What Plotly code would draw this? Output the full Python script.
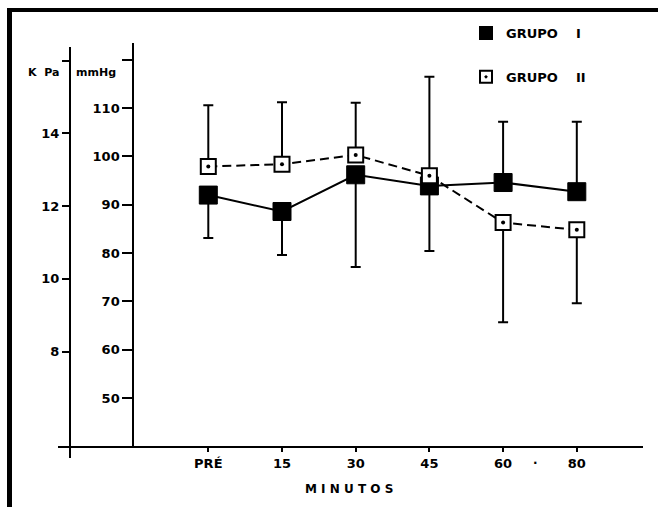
import plotly.graph_objects as go

# ---- data ----
categories = ["PRÉ", "15", "30", "45", "60", "80"]
g1_mean = [92.0, 88.6, 96.2, 93.9, 94.6, 92.7]
g1_sd_plus = [0, 0, 0, 0, 12.6, 14.5]
g1_sd_minus = [8.9, 9.0, 19.1, 13.5, 0, 0]
g2_mean = [97.9, 98.4, 100.3, 96.0, 86.3, 84.8]
g2_sd_plus = [12.7, 12.8, 10.8, 20.5, 0, 0]
g2_sd_minus = [0, 0, 0, 0, 20.6, 15.2]
mmhg_ticks = [50, 60, 70, 80, 90, 100, 110, 120]
mmhg_labels = ["50", "60", "70", "80", "90", "100", "110", ""]
kpa_ticks = [8, 10, 12, 14, 16]
kpa_labels = ["8", "10", "12", "14", ""]
legend_names = ["GRUPO\u00a0\u00a0\u00a0\u00a0I", "GRUPO\u00a0\u00a0\u00a0\u00a0II"]

W, H = 658, 507
def px(x):
    return x / W
def py(y):
    return 1 - y / H

FONT = "DejaVu Sans"
xs = list(range(len(categories)))

fig = go.Figure()

fig.add_trace(go.Scatter(
    x=xs, y=g1_mean, mode="lines+markers", showlegend=False,
    line=dict(color="black", width=2),
    marker=dict(symbol="square", size=18, color="black", line=dict(color="black", width=1)),
    error_y=dict(type="data", symmetric=False, array=g1_sd_plus, arrayminus=g1_sd_minus,
                 color="black", thickness=2, width=5),
))
fig.add_trace(go.Scatter(
    x=xs, y=g2_mean, mode="lines+markers", showlegend=False,
    line=dict(color="black", width=2, dash="9px,5px"),
    marker=dict(symbol="square", size=15, color="white", line=dict(color="black", width=2)),
    error_y=dict(type="data", symmetric=False, array=g2_sd_plus, arrayminus=g2_sd_minus,
                 color="black", thickness=2, width=5),
))
# centre dots of the open squares
fig.add_trace(go.Scatter(
    x=xs, y=g2_mean, mode="markers", showlegend=False, hoverinfo="skip",
    marker=dict(symbol="circle", size=4, color="black"),
))
# legend entries (markers only)
fig.add_trace(go.Scatter(
    x=[None], y=[None], mode="markers", name=legend_names[0], legendgroup="a",
    marker=dict(symbol="square", size=16, color="black", line=dict(color="black", width=1)),
))
fig.add_trace(go.Scatter(
    x=[None], y=[None], mode="markers", name=legend_names[1], legendgroup="b",
    marker=dict(symbol="square-dot", size=14, color="white", line=dict(color="black", width=2.5)),
))
# carrier for the kPa axis
fig.add_trace(go.Scatter(x=[None], y=[None], yaxis="y2", showlegend=False, hoverinfo="skip"))

# x mapping: marker i at 208.3 + 73.7*i px
def xi(p):
    return (p - 208.3) / 73.7

fig.update_layout(
    width=W, height=H,
    margin=dict(l=0, r=0, t=0, b=0),
    paper_bgcolor="white", plot_bgcolor="rgba(0,0,0,0)",
    font=dict(family=FONT, color="black", size=12, weight="bold"),
    xaxis=dict(
        domain=[px(58), px(643)], range=[xi(58), xi(643)],
        anchor="y", showline=True, linecolor="black", linewidth=2,
        tickmode="array", tickvals=xs, ticktext=categories,
        ticks="outside", ticklen=4, tickwidth=2, tickcolor="black",
        showgrid=False, zeroline=False,
        tickfont=dict(family=FONT, size=13, weight="bold"),
    ),
    yaxis=dict(
        domain=[py(446.3), py(43)], range=[40, 123.48],
        anchor="free", position=px(133.3),
        showline=True, linecolor="black", linewidth=2,
        tickmode="array", tickvals=mmhg_ticks, ticktext=mmhg_labels,
        ticks="outside", ticklen=10, tickwidth=2, tickcolor="black",
        showgrid=False, zeroline=False,
        tickfont=dict(family=FONT, size=13, weight="bold"),
    ),
    yaxis2=dict(
        domain=[py(458), py(47)], range=[5.080, 16.371],
        anchor="free", position=px(70),
        showline=True, linecolor="black", linewidth=2,
        tickmode="array", tickvals=kpa_ticks, ticktext=kpa_labels,
        ticks="outside", ticklen=7, tickwidth=2, tickcolor="black",
        showgrid=False, zeroline=False,
        tickfont=dict(family=FONT, size=13, weight="bold"),
    ),
    legend=dict(
        x=px(466), y=py(18), xanchor="left", yanchor="top",
        bgcolor="rgba(0,0,0,0)", borderwidth=0,
        tracegroupgap=24, itemsizing="constant",
        font=dict(family=FONT, size=13, weight="bold"),
    ),
    annotations=[
        dict(text="M I N U T O S", x=px(349), y=py(489), xref="paper", yref="paper",
             xanchor="center", yanchor="middle",
             showarrow=False, font=dict(family=FONT, size=12, weight="bold")),
        dict(text="K\u00a0\u00a0Pa", x=px(43), y=py(72), xref="paper", yref="paper",
             xanchor="center", yanchor="middle",
             showarrow=False, font=dict(family=FONT, size=11, weight="bold")),
        dict(text="mmHg", x=px(96), y=py(72), xref="paper", yref="paper",
             xanchor="center", yanchor="middle",
             showarrow=False, font=dict(family=FONT, size=11, weight="bold")),
        dict(text=".", x=px(535), y=py(460), xref="paper", yref="paper",
             xanchor="center", yanchor="middle",
             showarrow=False, font=dict(family=FONT, size=12, weight="bold")),
    ],
    shapes=[
        dict(type="rect", xref="paper", yref="paper", x0=px(7), x1=px(12), y0=0, y1=py(8),
             fillcolor="black", line=dict(width=0)),
        dict(type="rect", xref="paper", yref="paper", x0=px(7), x1=1, y0=py(12), y1=py(8),
             fillcolor="black", line=dict(width=0)),
    ],
)

fig.write_html("out.html")
